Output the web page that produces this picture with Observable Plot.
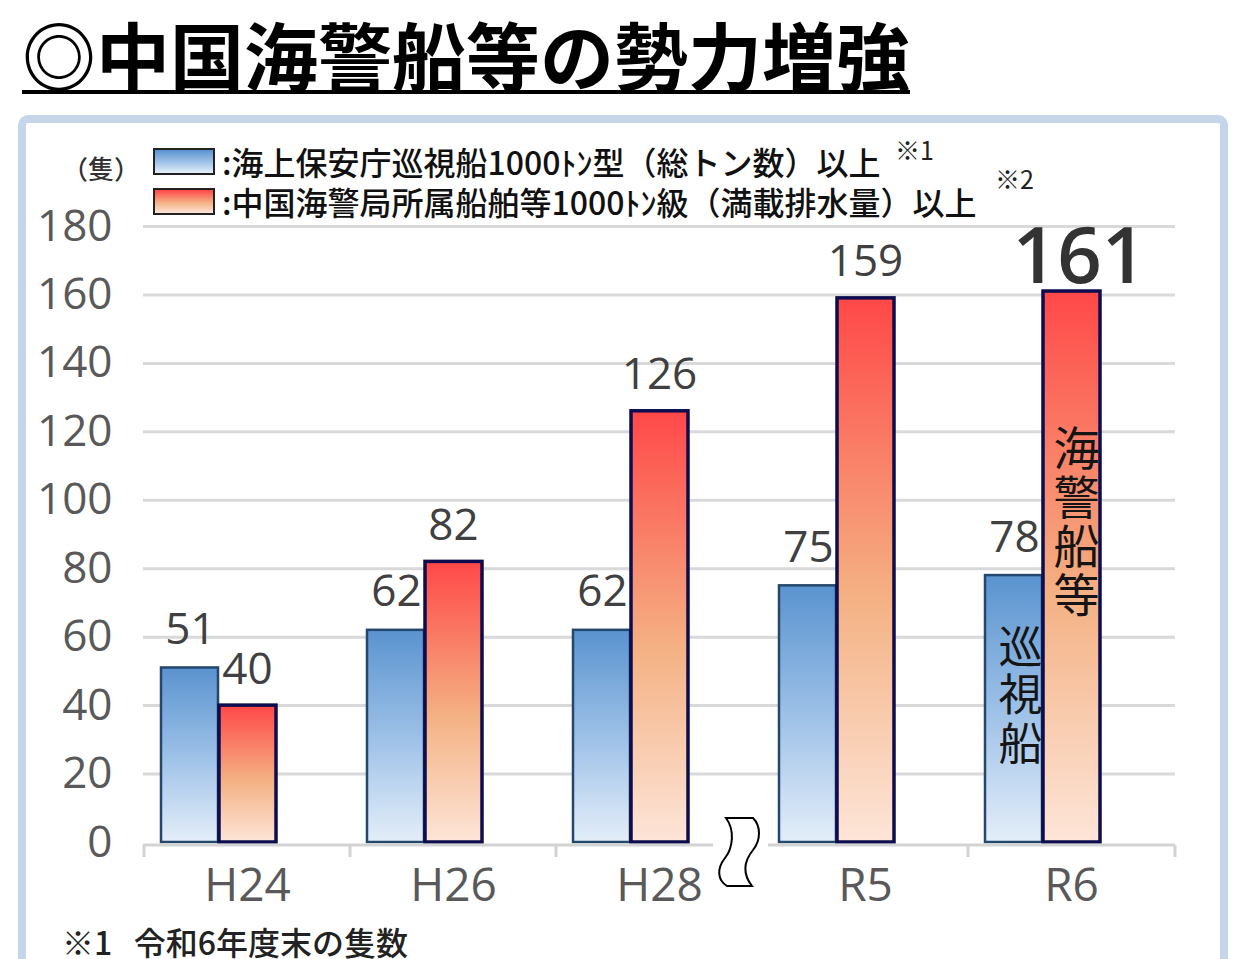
<!DOCTYPE html>
<html><head><meta charset="utf-8">
<script src="https://cdn.jsdelivr.net/npm/d3@7"></script>
<script src="https://cdn.jsdelivr.net/npm/@observablehq/plot@0.6"></script>
<style>
body{margin:0;background:#fff;width:1242px;height:959px;overflow:hidden;position:relative;font-family:"Noto Sans CJK JP","Noto Sans",sans-serif;}
#title{position:absolute;left:22px;top:16px;font-size:74px;font-weight:700;line-height:1;border-bottom:4px solid #000;color:#000;white-space:nowrap;}
#panel{position:absolute;left:18px;top:115px;width:1194px;height:900px;border:8px solid #c6d6ea;border-radius:10px;box-sizing:content-box;}
#chart{position:absolute;left:0;top:200px;}
.unit{position:absolute;left:62px;top:155px;font-size:26px;font-weight:500;color:#333;line-height:1;}
.sw{position:absolute;left:153px;width:58px;height:23px;border:2px solid #222;}
.lt{position:absolute;left:222px;font-size:32px;font-weight:500;color:#111;white-space:nowrap;line-height:1;}
.note{position:absolute;font-size:25px;color:#222;line-height:1;}
#foot{position:absolute;left:62px;top:925px;font-size:32px;font-weight:500;color:#222;white-space:nowrap;line-height:1;}
</style></head>
<body>
<div id="title">◎中国海警船等の勢力増強</div>
<div id="panel"></div>
<div class="unit">（隻）</div>
<div class="sw" id="sw1" style="top:148px;"></div>
<div class="lt" id="lt1" style="top:145px;"></div>
<div class="sw" id="sw2" style="top:188px;"></div>
<div class="lt" id="lt2" style="top:185px;"></div>
<div class="note" style="left:895px;top:137px;">※1</div>
<div class="note" style="left:995px;top:166px;">※2</div>
<div id="chart"></div>
<div id="foot">※1&nbsp;&nbsp; 令和6年度末の隻数</div>
<script>
const categories = ["H24","H26","H28","R5","R6"];
const jcgShips = [51,62,62,75,78];
const ccgShips = [40,82,126,159,161];
const yTicks = [0,20,40,60,80,100,120,140,160,180];
const seriesNames = [":海上保安庁巡視船1000ﾄﾝ型（総トン数）以上", ":中国海警局所属船舶等1000ﾄﾝ級（満載排水量）以上"];
const barLabels = ["巡\n視\n船", "海\n警\n船\n等"];

const blueStops = [["0%","#5a93cf"],["50%","#9cc0e7"],["100%","#e4eef9"]];
const redStops = [["0%","#ff4848"],["55%","#f4b183"],["100%","#fde5d8"]];

document.getElementById("lt1").textContent = seriesNames[0];
document.getElementById("lt2").textContent = seriesNames[1];
const cssGrad = s => "linear-gradient(to bottom," + s.map(d => d[1] + " " + d[0]).join(",") + ")";
document.getElementById("sw1").style.background = cssGrad(blueStops);
document.getElementById("sw2").style.background = cssGrad(redStops);

const jcgRows = categories.map((c,i) => ({category:c, value:jcgShips[i]}));
const ccgRows = categories.map((c,i) => ({category:c, value:ccgShips[i]}));
const last = categories.length - 1;

const chart = Plot.plot({
  width:1242, height:720,
  marginLeft:143, marginRight:67, marginTop:26, marginBottom:78,
  style:{background:"transparent", fontFamily:'"Open Sans","Noto Sans",sans-serif', overflow:"visible"},
  x:{type:"band", domain:categories, padding:0, label:null},
  y:{domain:[0,180], label:null},
  marks:[
    Plot.ruleY(yTicks.filter(d => d > 0), {stroke:"#d9d9d9", strokeWidth:3}),
    Plot.axisY({ticks:yTicks, tickSize:0, tickPadding:31, fontSize:44, fill:"#595959", label:null}),
    Plot.axisX({tickSize:0, tickPadding:26, fontSize:46, fill:"#595959", label:null}),
    Plot.barY(jcgRows, {x:"category", y:"value", fill:"url(#gBlue)", stroke:"#24476e", strokeWidth:2.5, insetLeft:17, insetRight:132}),
    Plot.text([jcgRows[last]], {x:"category", y:d => d.value*0.55, text:() => barLabels[0], dx:-51, fontSize:44, lineHeight:1.1, fill:"#151515", fontFamily:"Noto Sans CJK JP"}),
    Plot.barY(ccgRows, {x:"category", y:"value", fill:"url(#gRed)", stroke:"#0c0c4e", strokeWidth:3.5, insetLeft:75, insetRight:74}),
    Plot.text([ccgRows[last]], {x:"category", y:d => d.value*0.58, text:() => barLabels[1], dx:5, fontSize:46, lineHeight:1.06, fill:"#151515", fontFamily:"Noto Sans CJK JP"}),
    Plot.text(jcgRows, {x:"category", y:"value", text:d => String(d.value), dx:-57, dy:-24, lineAnchor:"bottom", fontSize:44, fill:"#404040"}),
    Plot.text(ccgRows.slice(0,last), {x:"category", y:"value", text:d => String(d.value), dx:0, dy:-22, lineAnchor:"bottom", fontSize:44, fill:"#404040"}),
    Plot.text([ccgRows[last]], {x:"category", y:"value", text:d => String(d.value), dx:8, dy:-9, lineAnchor:"bottom", fontSize:78, fontWeight:600, fill:"#333"})
  ]
});

// gradients
const svg = d3.select(chart);
const defs = svg.insert("defs", ":first-child");
function addGrad(id, stops){
  const g = defs.append("linearGradient").attr("id", id).attr("x1",0).attr("y1",0).attr("x2",0).attr("y2",1);
  stops.forEach(([o,c]) => g.append("stop").attr("offset", o).attr("stop-color", c));
}
addGrad("gBlue", blueStops);
addGrad("gRed", redStops);

// broken baseline axis drawn from the plot's own scales
const xs = chart.scale("x"), ys = chart.scale("y");
const x0 = xs.range[0], x1 = xs.range[1];
const yb = ys.apply(0) + 3;
const cx = xs.apply("R5") - 23;
const gapL = cx - 26, gapR = cx + 29;
const ax = svg.append("g").attr("stroke", "#d3d3d3").attr("stroke-width", 3);
ax.append("line").attr("x1", x0).attr("x2", gapL).attr("y1", yb).attr("y2", yb);
ax.append("line").attr("x1", gapR).attr("x2", x1).attr("y1", yb).attr("y2", yb);
const tickXs = categories.map(c => xs.apply(c)).concat([x1]).filter(t => t < gapL || t > gapR);
tickXs.forEach(t => ax.append("line").attr("x1", t).attr("x2", t).attr("y1", yb).attr("y2", yb + 12));
svg.append("path")
  .attr("transform", `translate(${cx},${yb + 7})`)
  .attr("d", "M -13,-34 L 14,-34 C 22,-26 22,-12 14,-2 C 6,8 2,20 13,34 L -12,34 C -22,28 -22,16 -14,6 C -6,-4 -4,-22 -13,-34 Z")
  .attr("fill", "#fff").attr("stroke", "#000").attr("stroke-width", 2);

document.getElementById("chart").appendChild(chart);
</script>
</body></html>
